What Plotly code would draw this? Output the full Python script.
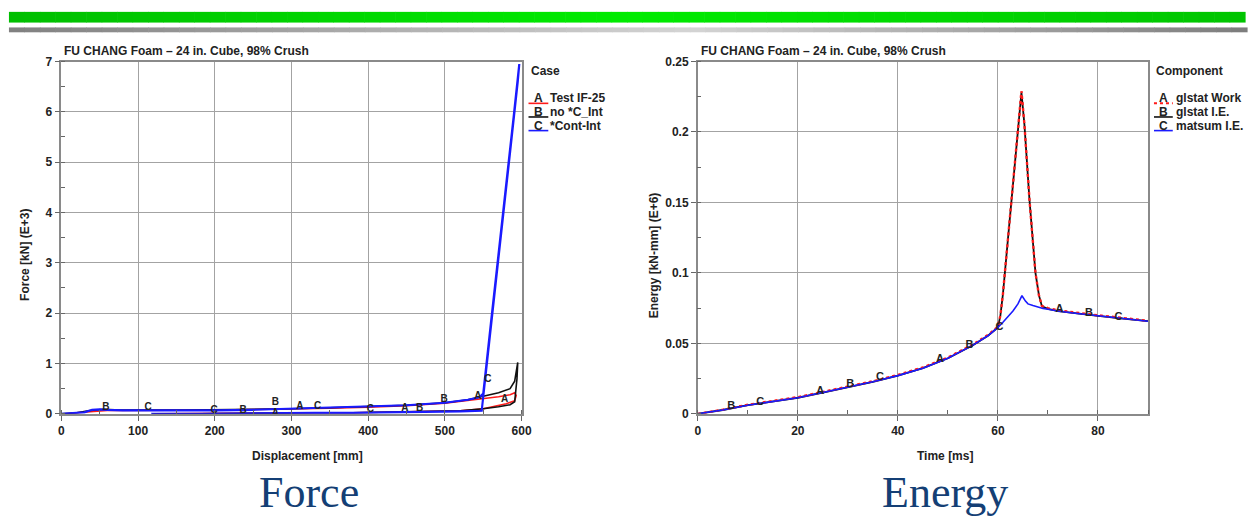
import plotly.graph_objects as go

W, H = 1257, 523


def px(x):
    return x / W


def py(y):
    return 1 - y / H


# ---------------- Force vs displacement (left) ----------------
force_A_disp = [0, 10, 20, 30, 40, 50, 60, 80, 100, 130, 160, 200, 250, 300, 350, 400, 450, 500, 530, 550,
                570, 585, 591, 593, 591, 580, 565, 550, 520, 480, 430, 380, 330, 280, 230, 180, 140, 120]
force_A_val = [0, 0.0, 0.02, 0.03, 0.05, 0.06, 0.065, 0.065, 0.065, 0.07, 0.07, 0.075, 0.085, 0.095, 0.11,
               0.13, 0.16, 0.21, 0.26, 0.3, 0.34, 0.38, 0.42, 0.36, 0.26, 0.2, 0.15, 0.1, 0.06, 0.045, 0.03,
               0.02, 0.02, 0.015, 0.01, 0.0, 0.0, 0.0]

force_B_disp = [0, 20, 35, 45, 55, 70, 90, 120, 160, 200, 250, 300, 350, 400, 450, 500, 530, 550, 570, 585,
                591, 595, 594, 591, 585, 570, 550, 520, 480, 430, 380, 330, 280, 230, 180, 140, 118]
force_B_val = [0, 0.02, 0.06, 0.08, 0.09, 0.08, 0.075, 0.075, 0.075, 0.08, 0.09, 0.1, 0.12, 0.14, 0.17, 0.22,
               0.28, 0.35, 0.42, 0.5, 0.65, 1.02, 0.7, 0.24, 0.18, 0.14, 0.1, 0.06, 0.045, 0.03, 0.02, 0.02,
               0.01, 0.01, 0.0, 0.0, 0.0]

force_C_disp = [0, 15, 30, 40, 50, 60, 70, 80, 100, 150, 200, 250, 300, 350, 400, 450, 500, 530, 545, 550,
                560, 570, 580, 590, 597, 595, 585, 575, 565, 556, 549, 548, 520, 480, 430, 380, 330, 280, 230,
                180, 140, 117]
force_C_val = [0, 0.01, 0.03, 0.08, 0.09, 0.08, 0.07, 0.07, 0.07, 0.065, 0.07, 0.08, 0.1, 0.12, 0.14, 0.17,
               0.22, 0.28, 0.33, 0.4, 1.8, 3.15, 4.55, 5.95, 6.95, 6.6, 5.2, 3.8, 2.4, 1.1, 0.25, 0.06, 0.05,
               0.04, 0.03, 0.02, 0.02, 0.01, 0.01, 0.0, 0.0, 0.0]

force_lbl_text = ["B", "C", "C", "B", "B", "A", "A", "C", "C", "A", "B", "B", "A", "C", "A"]
force_lbl_disp = [58, 113, 199, 237, 279, 279, 311, 334, 403, 448, 467, 499, 543, 556, 578]
force_lbl_val = [0.13, 0.13, 0.07, 0.07, 0.23, 0.01, 0.14, 0.15, 0.08, 0.1, 0.1, 0.28, 0.35, 0.68, 0.28]

force_xticks = [0, 100, 200, 300, 400, 500, 600]
force_yticks = [0, 1, 2, 3, 4, 5, 6, 7]

# ---------------- Energy vs time (right) ----------------
en_time_AB = [0, 5, 10, 15, 20, 25, 30, 35, 40, 45, 50, 55, 58, 60, 60.5, 61, 62, 63, 64, 64.7, 65.3,
              66.3, 67.5, 68.2, 68.8, 70, 72, 75, 80, 85, 90]
en_work_A = [0, 0.0029, 0.0064, 0.009, 0.0118, 0.0155, 0.0193, 0.0231, 0.0276, 0.0329, 0.0399, 0.0492,
             0.0559, 0.0618, 0.07, 0.085, 0.124, 0.162, 0.2, 0.229, 0.205, 0.152, 0.1, 0.084, 0.0765,
             0.075, 0.0734, 0.072, 0.0699, 0.068, 0.066]
en_ie_B = [0, 0.0027, 0.0061, 0.0087, 0.0114, 0.0151, 0.0189, 0.0227, 0.0271, 0.0324, 0.0394, 0.0487,
           0.0554, 0.0613, 0.07, 0.085, 0.124, 0.162, 0.2, 0.228, 0.205, 0.152, 0.1, 0.084, 0.0762,
           0.0745, 0.0729, 0.0715, 0.0695, 0.0676, 0.0657]
en_time_C = [0, 5, 10, 15, 20, 25, 30, 35, 40, 45, 50, 55, 58, 60, 61, 62, 63, 64, 64.8, 65.5, 66, 67,
             68, 69, 70, 72, 75, 80, 85, 90]
en_ie_C = [0, 0.0027, 0.0061, 0.0087, 0.0114, 0.0151, 0.0189, 0.0227, 0.0271, 0.0324, 0.0394, 0.0487,
           0.0554, 0.0613, 0.065, 0.069, 0.073, 0.078, 0.0838, 0.08, 0.078, 0.0768, 0.0757, 0.0748, 0.0742,
           0.0729, 0.0715, 0.0695, 0.0676, 0.0657]

en_lbl_text = ["B", "C", "A", "B", "C", "A", "B", "C", "A", "B", "C"]
en_lbl_time = [6.7, 12.5, 24.5, 30.5, 36.4, 48.4, 54.3, 60.3, 72.3, 78.2, 84.1]
en_lbl_val = [0.0052, 0.0081, 0.016, 0.021, 0.026, 0.039, 0.0484, 0.0616, 0.0744, 0.0714, 0.0685]

en_xticks = [0, 20, 40, 60, 80]
en_yticks = [0, 0.05, 0.1, 0.15, 0.2, 0.25]
en_ytick_text = ["0", "0.05", "0.1", "0.15", "0.2", "0.25"]

title_text = "FU CHANG Foam – 24 in. Cube, 98% Crush"
force_legend = [("A", "Test IF-25"), ("B", "no *C_Int"), ("C", "*Cont-Int")]
energy_legend = [("A", "glstat Work"), ("B", "glstat I.E."), ("C", "matsum I.E.")]

RED, BLACK, BLUE = "#ff1a1a", "#111111", "#1a1aff"
TXT = "#222222"
SANS = "Liberation Sans, Arial, sans-serif"
FS = 12

fig = go.Figure()

# left curves
fig.add_trace(go.Scatter(x=force_A_disp, y=force_A_val, mode="lines", line=dict(color=RED, width=1.6),
                         xaxis="x", yaxis="y", showlegend=False))
fig.add_trace(go.Scatter(x=force_B_disp, y=force_B_val, mode="lines", line=dict(color=BLACK, width=1.6),
                         xaxis="x", yaxis="y", showlegend=False))
fig.add_trace(go.Scatter(x=force_C_disp, y=force_C_val, mode="lines", line=dict(color=BLUE, width=2.2),
                         xaxis="x", yaxis="y", showlegend=False))
fig.add_trace(go.Scatter(x=force_lbl_disp, y=force_lbl_val, mode="text", text=force_lbl_text,
                         textfont=dict(family=SANS, size=10, color=TXT, weight="bold"),
                         xaxis="x", yaxis="y", showlegend=False))

# right curves
fig.add_trace(go.Scatter(x=en_time_AB, y=en_ie_B, mode="lines", line=dict(color=BLACK, width=1.8),
                         xaxis="x2", yaxis="y2", showlegend=False))
fig.add_trace(go.Scatter(x=en_time_AB, y=en_work_A, mode="lines", line=dict(color=RED, width=2.4, dash="dot"),
                         xaxis="x2", yaxis="y2", showlegend=False))
fig.add_trace(go.Scatter(x=en_time_C, y=en_ie_C, mode="lines", line=dict(color=BLUE, width=1.6),
                         xaxis="x2", yaxis="y2", showlegend=False))
fig.add_trace(go.Scatter(x=en_lbl_time, y=en_lbl_val, mode="text", text=en_lbl_text,
                         textfont=dict(family=SANS, size=11, color=TXT, weight="bold"),
                         xaxis="x2", yaxis="y2", showlegend=False))

tickfont = dict(family=SANS, size=FS, color=TXT, weight="bold")
common = dict(showline=True, mirror=True, linecolor="#8a8a8a", linewidth=1.5, showgrid=True,
              gridcolor="#a3a3a3", gridwidth=1.3, zeroline=False, ticks="outside", ticklen=5,
              tickcolor="#666666", tickfont=tickfont, fixedrange=True)

ydom = [py(418), py(56)]
fig.update_layout(
    width=W, height=H, margin=dict(l=0, r=0, t=0, b=0),
    paper_bgcolor="white", plot_bgcolor="white",
    xaxis=dict(domain=[px(59), px(524)], range=[0, 600], tickvals=force_xticks, anchor="y",
               minor=dict(dtick=50, ticks="inside", ticklen=4, tickcolor="#666666", showgrid=False), **common),
    yaxis=dict(domain=ydom, range=[0, 7], tickvals=force_yticks, anchor="x",
               minor=dict(dtick=0.5, ticks="inside", ticklen=4, tickcolor="#666666", showgrid=False), **common),
    xaxis2=dict(domain=[px(702), px(1157)], range=[0, 90], tickvals=en_xticks, anchor="y2",
                minor=dict(dtick=10, ticks="inside", ticklen=4, tickcolor="#666666", showgrid=False), **common),
    yaxis2=dict(domain=ydom, range=[0, 0.25], tickvals=en_yticks, ticktext=en_ytick_text, anchor="x2",
                minor=dict(dtick=0.025, ticks="inside", ticklen=4, tickcolor="#666666", showgrid=False), **common),
)

shapes = []
annotations = []

# decorative top bars (gradient made of thin slices)
def lerp(c1, c2, t):
    return tuple(int(round(a + (b - a) * t)) for a, b in zip(c1, c2))

def grad(stops, t):
    for i in range(len(stops) - 1):
        t0, c0 = stops[i]
        t1, c1 = stops[i + 1]
        if t0 <= t <= t1:
            return lerp(c0, c1, (t - t0) / (t1 - t0))
    return stops[-1][1]

green_stops = [(0, (0, 190, 0)), (0.5, (0, 236, 0)), (1, (0, 196, 0))]
gray_stops = [(0, (128, 128, 128)), (0.55, (212, 212, 212)), (1, (124, 124, 124))]
N = 80
for i in range(N):
    t = (i + 0.5) / N
    x0 = 6 + (1255 - 6) * i / N
    x1 = 6 + (1255 - 6) * (i + 1) / N + 0.6
    g = grad(green_stops, t)
    shapes.append(dict(type="rect", xref="paper", yref="paper", x0=px(x0), x1=px(x1), y0=py(16), y1=py(5),
                       fillcolor="rgb(%d,%d,%d)" % g, line=dict(width=0), layer="below"))
    x0g = 6 + (1257 - 6) * i / N
    x1g = 6 + (1257 - 6) * (i + 1) / N + 0.6
    c = grad(gray_stops, t)
    shapes.append(dict(type="rect", xref="paper", yref="paper", x0=px(x0g), x1=px(x1g), y0=py(26), y1=py(21),
                       fillcolor="rgb(%d,%d,%d)" % c, line=dict(width=0), layer="below"))

def text(x, y, s, size=FS, xanchor="left", yanchor="middle", angle=0, color=TXT, family=SANS, weight="bold"):
    annotations.append(dict(x=px(x), y=py(y), xref="paper", yref="paper", text=s, showarrow=False,
                            xanchor=xanchor, yanchor=yanchor, textangle=angle,
                            font=dict(family=family, size=size, color=color, weight=weight)))

# titles
text(60, 45, title_text)
text(703, 45, title_text)

# axis titles
text(22, 255, "Force [kN] (E+3)", angle=-90, xanchor="center")
text(658, 255, "Energy [kN-mm] (E+6)", angle=-90, xanchor="center")
text(308, 461, "Displacement [mm]", xanchor="center")
text(952, 461, "Time [ms]", xanchor="center")

# big captions
text(309, 499, "Force", size=44, xanchor="center", color="#143f75",
     family="Liberation Serif, Times New Roman, serif", weight="normal")
text(952, 499, "Energy", size=44, xanchor="center", color="#143f75",
     family="Liberation Serif, Times New Roman, serif", weight="normal")

# legends
text(531, 66, "Case")
leg_y = [94, 108, 122]
left_styles = [dict(color=RED, width=1.6), dict(color=BLACK, width=1.6), dict(color=BLUE, width=1.6)]
for (letter, lab), yy, st in zip(force_legend, leg_y, left_styles):
    text(541, yy, letter, xanchor="center")
    text(551, yy, lab)
    shapes.append(dict(type="line", xref="paper", yref="paper", x0=px(531), x1=px(551), y0=py(yy + 5),
                       y1=py(yy + 5), line=st))

text(1163, 66, "Component")
right_styles = [dict(color=RED, width=2, dash="dot"), dict(color=BLACK, width=1.6), dict(color=BLUE, width=1.6)]
for (letter, lab), yy, st in zip(energy_legend, leg_y, right_styles):
    text(1173, yy, letter, xanchor="center")
    text(1183, yy, lab)
    shapes.append(dict(type="line", xref="paper", yref="paper", x0=px(1163), x1=px(1182), y0=py(yy + 5),
                       y1=py(yy + 5), line=st))

fig.update_layout(shapes=shapes, annotations=annotations)
fig.write_html("out.html", config={"displayModeBar": False},
               post_script="document.body.style.margin='0';document.body.style.overflow='hidden';")
